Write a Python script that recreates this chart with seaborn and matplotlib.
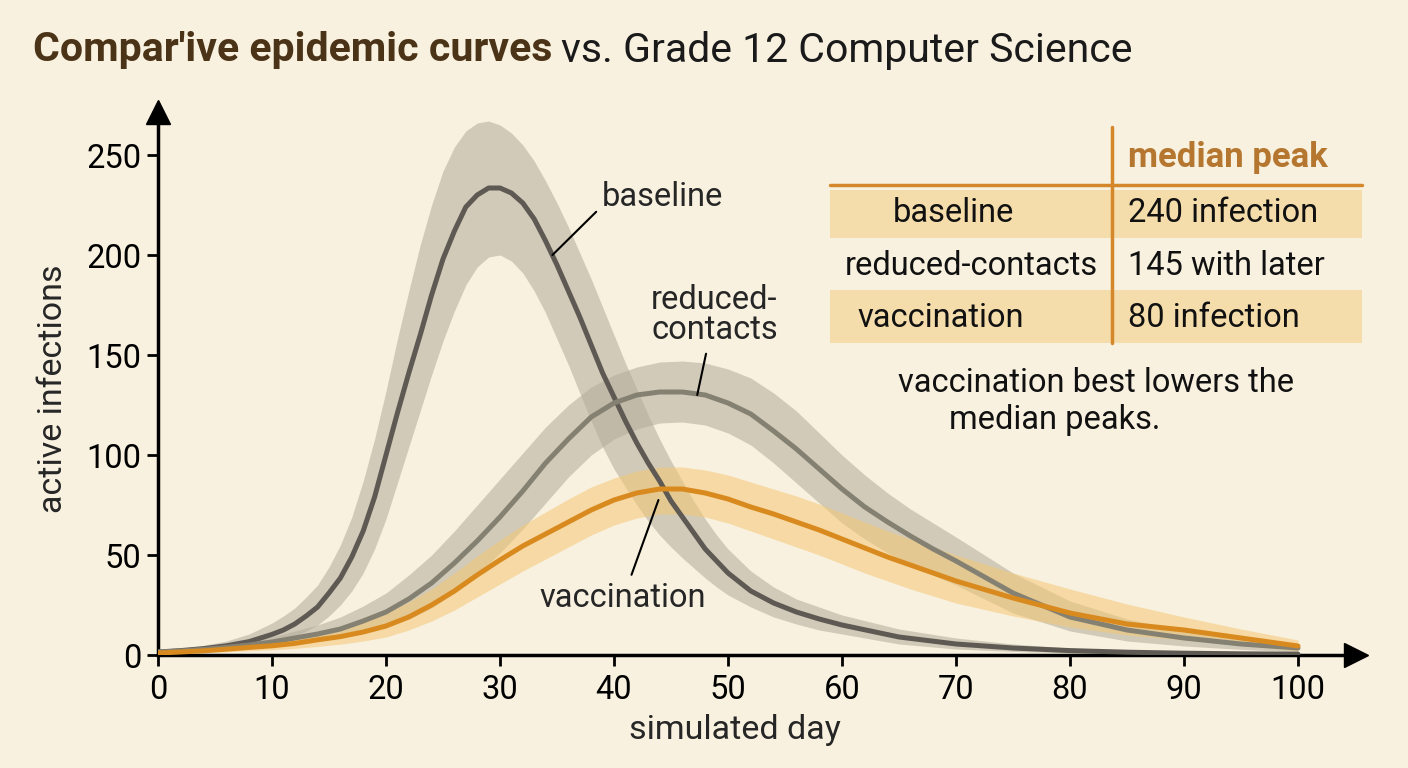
import pandas as pd
import matplotlib
matplotlib.use('Agg')
import matplotlib.pyplot as plt
from matplotlib.patches import Rectangle
import seaborn as sns

# values
baseline_days = [0, 2, 4, 6, 8, 10,
                 11, 12, 13, 14, 15, 16, 17, 18, 19, 20,
                 21, 22, 23, 24, 25, 26, 27, 28, 29, 30,
                 31, 32, 33, 34, 35, 36, 37, 38, 39, 40,
                 41, 42, 43, 44, 45, 46, 47, 48, 49, 50,
                 52, 54, 56, 58, 60, 65, 70, 75, 80, 85, 90, 95, 100]
baseline = [1.5, 2.2, 3.2, 4.6, 6.7, 10.3,
            12.5, 15.5, 19.5, 24, 31, 38.5, 49, 62, 79, 100,
            121, 141, 160, 180, 198, 212, 224, 230, 233.5, 233.5,
            231, 226, 218, 207, 195, 182, 169, 155, 141, 129,
            117, 106, 96, 87, 77, 69, 61, 53, 47, 41,
            32, 26, 21.5, 18, 15, 9, 5.5, 3.5, 2.2, 1.4, 0.9, 0.6, 0.4]
baseline_hi = [2.2, 3.2, 4.8, 7, 10.5, 16,
               19.5, 23.5, 29, 35, 44, 55, 69, 87, 108, 132,
               158, 182, 205, 225, 242, 254, 262, 266, 267, 265,
               261, 255, 247, 237, 226, 214, 201, 188, 174, 160,
               146, 133, 120, 108, 97, 87, 77, 68, 60, 53,
               42, 34, 28, 24, 20, 13, 8.5, 5.5, 3.5, 2.4, 1.7, 1.3, 1.0]
baseline_lo = [0.8, 1.2, 1.7, 2.5, 3.8, 6,
               7.5, 9.5, 12, 15, 19.5, 25, 32, 41, 53, 68,
               86, 104, 122, 140, 157, 172, 185, 194, 199, 200,
               197, 191, 182, 171, 158, 145, 131, 117, 104, 93,
               84, 75, 67, 60, 54, 48.5, 43.5, 38.5, 34, 30,
               24, 19, 15.5, 12.5, 10.5, 5.5, 3, 1.8, 1.1, 0.7, 0.5, 0.3, 0.2]

days = [0, 2, 4, 6, 8, 10, 12, 14, 16, 18, 20, 22, 24, 26, 28, 30, 32, 34, 36, 38,
        40, 42, 44, 46, 48, 50, 52, 54, 56, 58, 60, 62, 64, 66, 68, 70,
        75, 80, 85, 90, 95, 100]
reduced = [1.5, 2, 2.8, 3.8, 5, 6.5, 8.5, 10.5, 13, 17,
           21.5, 28, 36, 46, 57, 69, 82, 96, 108, 119,
           126, 130, 131.5, 131.5, 130, 126, 120.5, 112, 103, 93,
           83, 74, 66.5, 59.5, 53, 47,
           31, 19, 12.5, 8.5, 5.5, 3.5]
reduced_hi = [2.2, 2.8, 3.8, 5.2, 7, 9, 12, 15, 19, 24.5,
              31, 40, 50, 62, 75, 88, 101, 114, 125, 134,
              140, 144, 146.5, 147, 146, 143, 138.5, 131, 122, 111,
              100, 90, 81, 73, 66, 59,
              41, 27, 18, 12, 8, 5.5]
reduced_lo = [0.8, 1.2, 1.7, 2.4, 3.2, 4.2, 5.5, 7, 8.5, 11,
              14, 18, 23.5, 31, 40, 51, 63, 76, 89, 100,
              108, 113, 116, 116.5, 115, 111, 105, 96, 86, 76,
              66, 58, 51, 45.5, 40, 35,
              21, 12, 7, 4.5, 2.8, 1.5]
vaccination = [1, 1.5, 2.1, 2.9, 3.8, 4.6, 5.8, 7.6, 9.2, 11.5,
               14.5, 19, 25, 32, 40, 47.5, 54.5, 60.5, 66.5, 72.5,
               77.5, 81, 83, 83, 81, 78, 74, 70.5, 66.5, 62.5,
               58, 53.5, 49, 45, 41, 37,
               28.5, 21, 15.5, 12.5, 8.5, 4.5]
vaccination_hi = [1.5, 2.2, 3.1, 4.3, 5.7, 7, 8.8, 11.2, 13.8, 17,
                  21, 26.5, 33, 41, 49.5, 57.5, 65, 71.5, 78, 84,
                  88.5, 92, 94, 94, 92.5, 90, 86.5, 83, 79.5, 75.5,
                  71, 66.5, 62, 58, 54, 50,
                  41, 33, 25.5, 19, 13, 7.5]
vaccination_lo = [0.5, 0.8, 1.2, 1.6, 2.1, 2.6, 3.3, 4.3, 5.4, 7,
                  9, 12.5, 17, 22.5, 29, 35.5, 42, 48, 54, 60,
                  65, 68.5, 70.5, 70.5, 69, 66, 62, 58, 54, 50,
                  45.5, 41, 37, 33, 29.5, 26,
                  19.5, 14, 10, 7.5, 5, 2]

scenarios = ['baseline', 'reduced-contacts', 'vaccination']
table_left = ['baseline', 'reduced-contacts', 'vaccination']
table_right = ['240 infection', '145 with later', '80 infection']
x_ticks = [0, 10, 20, 30, 40, 50, 60, 70, 80, 90, 100]
y_ticks = [0, 50, 100, 150, 200, 250]

BG = '#F8F1DF'
line_colors = {'baseline': '#5E5953', 'reduced-contacts': '#858172', 'vaccination': '#D98A1E'}
band_colors = {'baseline': '#B2AB99', 'reduced-contacts': '#B2AB99', 'vaccination': '#F5C774'}
ORANGE = '#D4882B'

sns.set_theme(style='ticks')
FAM = ['Liberation Sans Narrow', 'Roboto', 'DejaVu Sans']
plt.rcParams['font.family'] = FAM

series = {
    'baseline': (baseline_days, baseline, baseline_lo, baseline_hi),
    'reduced-contacts': (days, reduced, reduced_lo, reduced_hi),
    'vaccination': (days, vaccination, vaccination_lo, vaccination_hi),
}
rows = []
for name in scenarios:
    d_list, vals = series[name][0], series[name][1]
    for d, v in zip(d_list, vals):
        rows.append({'day': d, 'infections': v, 'scenario': name})
df = pd.DataFrame(rows)

fig = plt.figure(figsize=(14.08, 7.68), dpi=100)
fig.patch.set_facecolor(BG)
ax = fig.add_axes([158 / 1408, 1 - 655 / 768, (1356 - 158) / 1408, (655 - 112) / 768])
ax.set_facecolor(BG)

for name in scenarios:
    d_list, _, lo, hi = series[name]
    ax.fill_between(d_list, lo, hi, color=band_colors[name], alpha=0.55, lw=0, zorder=1)

sns.lineplot(data=df, x='day', y='infections', hue='scenario', palette=line_colors,
             linewidth=3.6, legend=False, errorbar=None, ax=ax, zorder=3)

ax.set_xlim(0, (1356 - 158) / 11.4)
ax.set_ylim(0, (655 - 112) / 2.0)
ax.set_xticks(x_ticks)
ax.set_yticks(y_ticks)
sns.despine(ax=ax)
for s in ['left', 'bottom']:
    ax.spines[s].set_linewidth(2.5)
    ax.spines[s].set_color('black')
ax.tick_params(length=8, width=2, labelsize=23.5, colors='black')
ax.tick_params(axis='x', pad=6)
ax.tick_params(axis='y', pad=4)
ax.plot(1, 0, marker='>', ms=17, color='black', transform=ax.transAxes, clip_on=False)
ax.plot(0, 1, marker='^', ms=17, color='black', transform=ax.transAxes, clip_on=False)

ax.set_xlabel('simulated day', fontsize=24.5)
ax.set_ylabel('active infections', fontsize=24.5)
ax.xaxis.set_label_coords(0.4816, -0.108)
ax.yaxis.set_label_coords(-0.074, 0.49)

# curve labels with leader lines
ax.annotate('baseline', xy=(34.6, 200), xytext=(38.9, 229), fontsize=23.5,
            ha='left', va='center', arrowprops=dict(arrowstyle='-', color='black', lw=1.5,
                                                    shrinkA=2, shrinkB=0, relpos=(0, 0.2)))
ax.annotate('reduced-\ncontacts', xy=(47.3, 130), xytext=(48.8, 170), fontsize=23.5,
            ha='center', va='center', linespacing=0.95,
            arrowprops=dict(arrowstyle='-', color='black', lw=1.5, shrinkA=3, shrinkB=0))
ax.annotate('vaccination', xy=(43.9, 77.5), xytext=(40.8, 28.5), fontsize=23.5,
            ha='center', va='center',
            arrowprops=dict(arrowstyle='-', color='black', lw=1.5, shrinkA=3, shrinkB=0))

# overlay in pixel coordinates for title and table
ov = fig.add_axes([0, 0, 1, 1], zorder=5)
ov.set_xlim(0, 1408)
ov.set_ylim(768, 0)
ov.axis('off')
ov.patch.set_alpha(0)

t1 = ov.text(33, 50, "Compar'ive epidemic curves", fontsize=29.5, weight='bold',
             color='#4B3317', ha='left', va='center')
fig.canvas.draw()
bb = t1.get_window_extent()
x_end = ov.transData.inverted().transform((bb.x1, bb.y0))[0]
ov.text(x_end + 9, 50, 'vs. Grade 12 Computer Science', fontsize=29.5,
        color='#1A1A1A', ha='left', va='center')

ov.add_patch(Rectangle((830, 190), 532, 48, color='#F4DCAB', lw=0))
ov.add_patch(Rectangle((830, 290), 532, 53, color='#F4DCAB', lw=0))
ov.plot([830, 1362], [185, 185], color=ORANGE, lw=2.5)
ov.plot([1112, 1112], [127, 343], color=ORANGE, lw=2.5)
ov.text(1128, 157, 'median peak', fontsize=25, weight='bold', color='#B5772F',
        ha='left', va='center')
left_x = [953, 971, 941]
row_y = [213, 266, 318]
for lx, ry, lt, rt in zip(left_x, row_y, table_left, table_right):
    ov.text(lx, ry, lt, fontsize=23.5, ha='center', va='center', color='#111111')
    ov.text(1128, ry, rt, fontsize=23.5, ha='left', va='center', color='#111111')

ov.text(1096, 383, 'vaccination best lowers the', fontsize=23.5, ha='center', va='center',
        color='#111111')
ov.text(1055, 420, 'median peaks.', fontsize=23.5, ha='center', va='center', color='#111111')

fig.savefig('out.png', dpi=100, facecolor=BG)
